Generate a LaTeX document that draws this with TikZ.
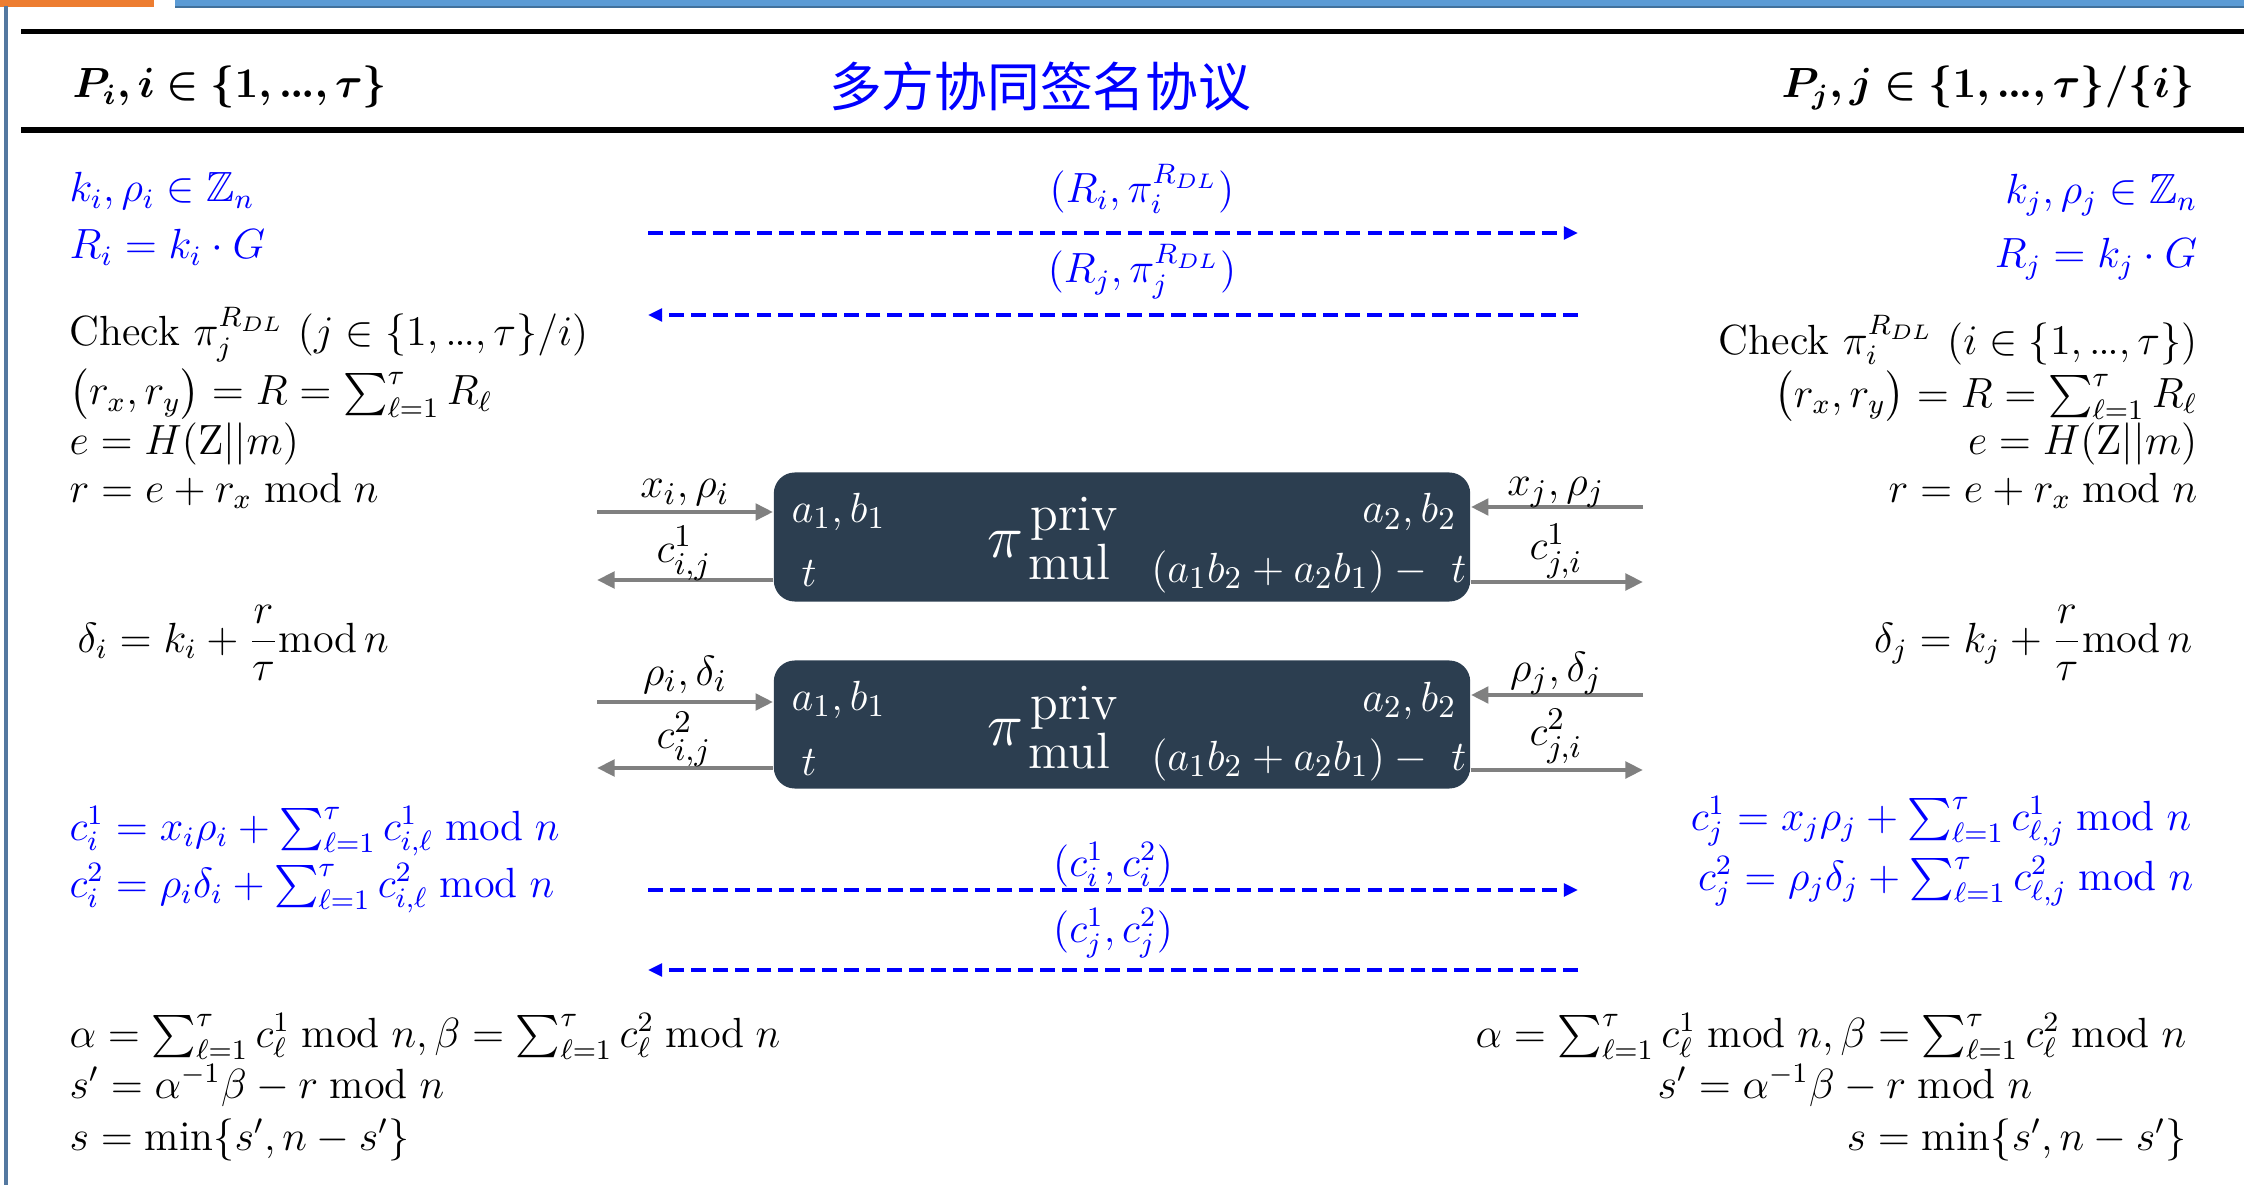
\documentclass[tikz,border=0pt]{standalone}
\usepackage{fontspec}
\usepackage{amsmath,amssymb,bm}
\usetikzlibrary{arrows.meta}
\newfontfamily\cjk{Noto Sans CJK SC}
\definecolor{pblue}{RGB}{0,0,255}
\definecolor{agray}{RGB}{128,128,128}
\definecolor{boxc}{RGB}{44,62,80}
\definecolor{barblue}{RGB}{91,155,213}
\definecolor{bardark}{RGB}{65,113,156}
\definecolor{barorange}{RGB}{237,125,49}
\definecolor{frameline}{RGB}{84,120,160}
\newcommand{\tdots}{{.}\mkern-1mu{.}\mkern-1mu{.}}
\begin{document}
\begin{tikzpicture}[x=0.01cm,y=-0.01cm,
  txt/.style={inner sep=0pt, font=\fontsize{12}{14}\selectfont},
  btxt/.style={txt, text=pblue},
  lbl/.style={inner sep=0pt, font=\fontsize{13}{15}\selectfont},
  boxlbl/.style={inner sep=0pt, text=white, font=\fontsize{13}{15}\selectfont},
  bigtxt/.style={inner sep=0pt, text=white, font=\fontsize{14.5}{16}\selectfont},
  pitxt/.style={inner sep=0pt, text=white, font=\fontsize{18.5}{20}\selectfont},
  mulbox/.style={fill=boxc, draw=none, rounded corners=6pt, minimum width=6.96cm, minimum height=1.29cm, inner sep=0pt},
  garrow/.style={draw=agray, line width=1.4pt, -{Triangle[length=5pt,width=4.6pt]}},
  darrow/.style={draw=pblue, line width=1pt, dash pattern=on 4.2pt off 2pt, -{Triangle[length=4pt,width=3.6pt]}},
  hline/.style={line width=1.6pt, black}
]
\useasboundingbox (0,0) rectangle (2244,1185);
\fill[white] (0,0) rectangle (2244,1185);
% frame
\fill[barorange] (0,0) rectangle (154,7);
\fill[barblue] (175,0) rectangle (2244,6);
\fill[bardark] (175,6) rectangle (2244,8.5);
\draw[frameline, line width=1.1pt] (6,6) -- (6,1185);
% header rules
\draw[hline] (21,31.5) -- (2244,31.5);
\draw[hline] (21,130) -- (2244,130);
% header
\node[inner sep=0pt, anchor=base west, font=\fontsize{11.5}{14}\selectfont] (hl) at (72,98) {$\bm{P_i, i \in \{1,\tdots,\tau\}}$};
\node[inner sep=0pt, text=pblue, font=\fontsize{15}{18}\selectfont] (title) at (1040,86) {\cjk 多方协同签名协议};
\node[inner sep=0pt, anchor=base east, font=\fontsize{11.5}{14}\selectfont] (hr) at (2195,98) {$\bm{P_j, j \in \{1,\tdots,\tau\}/\{i\}}$};
% left column
\node[btxt, anchor=base west] (l1) at (69,202) {$k_i, \rho_i \in \mathbb{Z}_n$};
\node[btxt, anchor=base west] (l2) at (69,259) {$R_i = k_i \cdot G$};
\node[txt, anchor=base west] (l3) at (69,346) {Check $\pi_j^{R_{DL}}\ (j \in \{1,\tdots,\tau\}/i)$};
\node[txt, anchor=base west] (l4) at (69,405) {$\bigl(r_x, r_y\bigr) = R = \sum_{\ell=1}^{\tau} R_\ell$};
\node[txt, anchor=base west] (l5) at (69,455) {$e = H(\mathrm{Z}||m)$};
\node[txt, anchor=base west] (l6) at (69,502) {$r = e + r_x \bmod n$};
\node[txt, anchor=base west] (l7) at (77,652) {$\delta_i = k_i + \dfrac{r}{\tau}\mathrm{mod}\, n$};
\node[btxt, anchor=base west] (l8) at (69,840) {$c_i^1 = x_i\rho_i + \sum_{\ell=1}^{\tau} c_{i,\ell}^1 \bmod n$};
\node[btxt, anchor=base west] (l9) at (69,897) {$c_i^2 = \rho_i\delta_i + \sum_{\ell=1}^{\tau} c_{i,\ell}^2 \bmod n$};
\node[txt, anchor=base west] (l10) at (69,1047) {$\alpha = \sum_{\ell=1}^{\tau} c_\ell^1 \bmod n, \beta = \sum_{\ell=1}^{\tau} c_\ell^2 \bmod n$};
\node[txt, anchor=base west] (l11) at (69,1098) {$s' = \alpha^{-1}\beta - r \bmod n$};
\node[txt, anchor=base west] (l12) at (69,1150) {$s = \min\{s', n - s'\}$};
% right column
\node[btxt, anchor=base east] (r1) at (2198,204) {$k_j, \rho_j \in \mathbb{Z}_n$};
\node[btxt, anchor=base east] (r2) at (2198,268) {$R_j = k_j \cdot G$};
\node[txt, anchor=base east] (r3) at (2198,354) {Check $\pi_i^{R_{DL}}\ (i \in \{1,\tdots,\tau\})$};
\node[txt, anchor=base east] (r4) at (2198,407) {$\bigl(r_x, r_y\bigr) = R = \sum_{\ell=1}^{\tau} R_\ell$};
\node[txt, anchor=base east] (r5) at (2198,455) {$e = H(\mathrm{Z}||m)$};
\node[txt, anchor=base east] (r6) at (2198,502) {$r = e + r_x \bmod n$};
\node[txt, anchor=base east] (r7) at (2193,652) {$\delta_j = k_j + \dfrac{r}{\tau}\mathrm{mod}\, n$};
\node[btxt, anchor=base east] (r8) at (2192,830) {$c_j^1 = x_j\rho_j + \sum_{\ell=1}^{\tau} c_{\ell,j}^1 \bmod n$};
\node[btxt, anchor=base east] (r9) at (2194,890) {$c_j^2 = \rho_j\delta_j + \sum_{\ell=1}^{\tau} c_{\ell,j}^2 \bmod n$};
\node[txt, anchor=base east] (r10) at (2187,1047) {$\alpha = \sum_{\ell=1}^{\tau} c_\ell^1 \bmod n, \beta = \sum_{\ell=1}^{\tau} c_\ell^2 \bmod n$};
\node[txt, anchor=base] (r11) at (1845,1098) {$s' = \alpha^{-1}\beta - r \bmod n$};
\node[txt, anchor=base east] (r12) at (2187,1150) {$s = \min\{s', n - s'\}$};
% blue dashed messages
\coordinate (d1s) at (648,233); \coordinate (d1e) at (1578,233);
\coordinate (d2s) at (1578,315); \coordinate (d2e) at (648,315);
\coordinate (d3s) at (648,890); \coordinate (d3e) at (1578,890);
\coordinate (d4s) at (1578,970); \coordinate (d4e) at (648,970);
\draw[darrow] (d1s) -- (d1e);
\draw[darrow] (d2s) -- (d2e);
\draw[darrow] (d3s) -- (d3e);
\draw[darrow] (d4s) -- (d4e);
\node[btxt, anchor=base] (m1l) at (1142,203) {$(R_i, \pi_i^{R_{DL}})$};
\node[btxt, anchor=base] (m2l) at (1142,283) {$(R_j, \pi_j^{R_{DL}})$};
\node[btxt, anchor=base] (m3l) at (1113,876) {$(c_i^1, c_i^2)$};
\node[btxt, anchor=base] (m4l) at (1113,942) {$(c_j^1, c_j^2)$};
% boxes
\node[mulbox] (m1) at (1122,537) {};
\node[mulbox, minimum height=1.28cm] (m2) at (1122,724.5) {};
% box 1 content
\node[boxlbl, anchor=base west] (m1a) at (791,522) {$a_1, b_1$};
\node[boxlbl, anchor=base west] (m1t) at (801,587) {$t$};
\node[boxlbl, anchor=base east] (m1b) at (1457,523) {$a_2, b_2$};
\node[boxlbl, anchor=base east] (m1c) at (1467,582) {$(a_1b_2 + a_2b_1) -\ t$};
\node[pitxt] (m1p) at (1005,544) {$\pi$};
\node[bigtxt, anchor=base west] (m1u) at (1030,531) {priv};
\node[bigtxt, anchor=base west] (m1m) at (1028,580) {mul};
% box 2 content
\node[boxlbl, anchor=base west] (m2a) at (791,710) {$a_1, b_1$};
\node[boxlbl, anchor=base west] (m2t) at (801,775) {$t$};
\node[boxlbl, anchor=base east] (m2b) at (1457,711) {$a_2, b_2$};
\node[boxlbl, anchor=base east] (m2c) at (1467,770) {$(a_1b_2 + a_2b_1) -\ t$};
\node[pitxt] (m2p) at (1005,732) {$\pi$};
\node[bigtxt, anchor=base west] (m2u) at (1030,719) {priv};
\node[bigtxt, anchor=base west] (m2m) at (1028,768) {mul};
% gray arrows box 1
\coordinate (li1) at (597,512); \coordinate (lo1) at (597,580);
\coordinate (ri1) at (1643,507); \coordinate (ro1) at (1643,582);
\draw[garrow] (li1) -- (li1 -| m1.west);
\draw[garrow] (lo1 -| m1.west) -- (lo1);
\draw[garrow] (ri1) -- (ri1 -| m1.east);
\draw[garrow] (ro1 -| m1.east) -- (ro1);
% gray arrows box 2
\coordinate (li2) at (597,702); \coordinate (lo2) at (597,768);
\coordinate (ri2) at (1643,695); \coordinate (ro2) at (1643,770);
\draw[garrow] (li2) -- (li2 -| m2.west);
\draw[garrow] (lo2 -| m2.west) -- (lo2);
\draw[garrow] (ri2) -- (ri2 -| m2.east);
\draw[garrow] (ro2 -| m2.east) -- (ro2);
% arrow labels
\node[lbl, anchor=base] (g1) at (685,498) {$x_i, \rho_i$};
\node[lbl, anchor=base] (g2) at (684,562) {$c_{i,j}^1$};
\node[lbl, anchor=base] (g3) at (1556,495) {$x_j, \rho_j$};
\node[lbl, anchor=base] (g4) at (1556,560) {$c_{j,i}^1$};
\node[lbl, anchor=base] (g5) at (685,685) {$\rho_i, \delta_i$};
\node[lbl, anchor=base] (g6) at (684,748) {$c_{i,j}^2$};
\node[lbl, anchor=base] (g7) at (1556,682) {$\rho_j, \delta_j$};
\node[lbl, anchor=base] (g8) at (1556,745) {$c_{j,i}^2$};
\end{tikzpicture}
\end{document}
